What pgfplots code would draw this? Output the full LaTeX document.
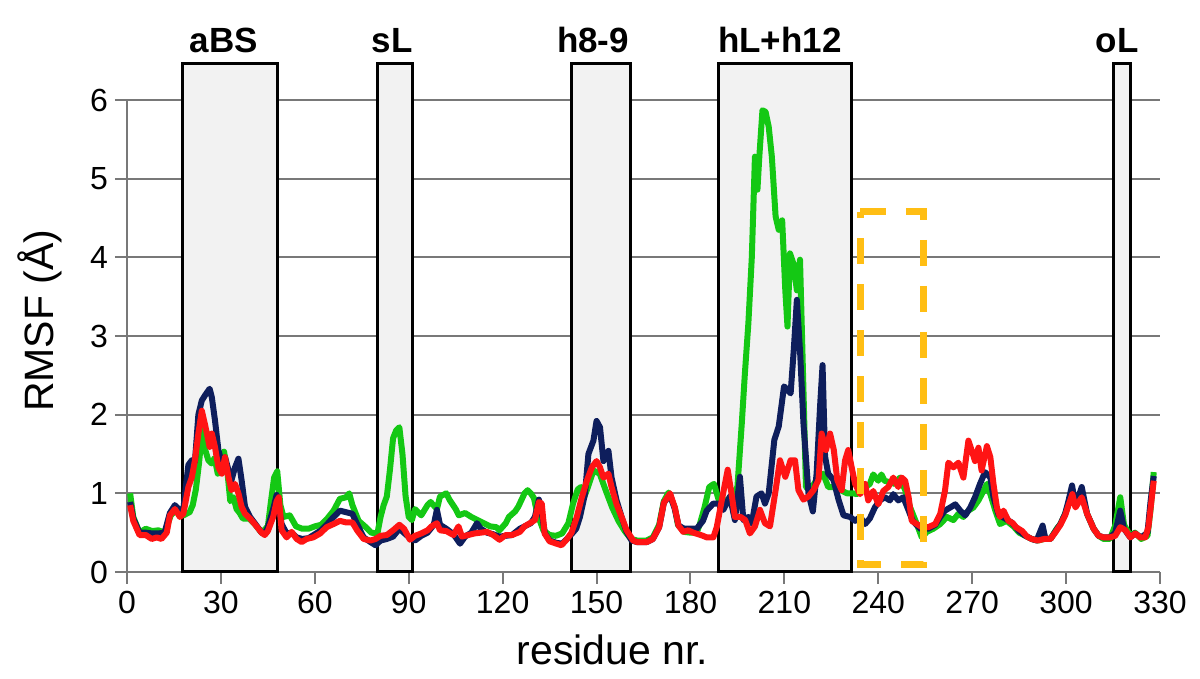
\documentclass[border=0pt]{standalone}
\usepackage{fontspec}
\setmainfont{Liberation Sans}
\usepackage{pgfplots}
\pgfplotsset{compat=1.18}
\definecolor{cgreen}{RGB}{20,200,20}
\definecolor{cnavy}{RGB}{14,30,92}
\definecolor{cred}{RGB}{255,20,20}
\definecolor{corange}{RGB}{255,190,20}
\definecolor{cbox}{RGB}{242,242,242}
\definecolor{cgrid}{RGB}{120,120,120}
\begin{document}
\begin{tikzpicture}
\begin{axis}[
  set layers,
  scale only axis,
  width=516.5pt, height=236pt,
  xmin=0, xmax=330, ymin=0, ymax=6,
  clip=false,
  axis x line*=bottom, axis y line*=left,
  axis line style={cgrid, line width=1pt},
  xtick={0,30,...,330}, ytick={0,1,...,6},
  tick align=outside, major tick length=6pt,
  tick style={cgrid, line width=1pt},
  ymajorgrids, grid style={cgrid, line width=1pt},
  /pgf/number format/assume math mode=true,
  ticklabel style={font=\fontsize{16}{19}\selectfont},
  xlabel={residue nr.}, ylabel={RMSF (Å)},
  label style={font=\fontsize{20.5}{24}\selectfont},
  xlabel style={at={(axis description cs:0.470,-0.165)}, anchor=center},
  ylabel style={at={(axis description cs:-0.0842,0.532)}, anchor=center},
]
% bounding frame
\path (axis cs:0,0) ++(-63.5pt,-53.5pt) rectangle ++(600pt,339.5pt);
% region fills
\fill[cbox, on layer=axis background] (axis cs:17.6,0) rectangle (axis cs:48.2,6.47);
\fill[cbox, on layer=axis background] (axis cs:79.9,0) rectangle (axis cs:91.1,6.47);
\fill[cbox, on layer=axis background] (axis cs:141.9,0) rectangle (axis cs:161.0,6.47);
\fill[cbox, on layer=axis background] (axis cs:189.1,0) rectangle (axis cs:231.3,6.47);
\fill[cbox, on layer=axis background] (axis cs:315.3,0) rectangle (axis cs:320.6,6.47);
% region borders
\draw[black, line width=1.5pt] (axis cs:17.6,0) rectangle (axis cs:48.2,6.47);
\draw[black, line width=1.5pt] (axis cs:79.9,0) rectangle (axis cs:91.1,6.47);
\draw[black, line width=1.5pt] (axis cs:141.9,0) rectangle (axis cs:161.0,6.47);
\draw[black, line width=1.5pt] (axis cs:189.1,0) rectangle (axis cs:231.3,6.47);
\draw[black, line width=1.5pt] (axis cs:315.3,0) rectangle (axis cs:320.6,6.47);
% labels
\node[font=\bfseries\fontsize{17.5}{20}\selectfont, anchor=base] at (axis cs:31,6.6) {aBS};
\node[font=\bfseries\fontsize{17.5}{20}\selectfont, anchor=base] at (axis cs:84.7,6.6) {sL};
\node[font=\bfseries\fontsize{17.5}{20}\selectfont, anchor=base] at (axis cs:148.9,6.6) {h8-9};
\node[font=\bfseries\fontsize{17.5}{20}\selectfont, anchor=base] at (axis cs:208.6,6.6) {hL+h12};
\node[font=\bfseries\fontsize{17.5}{20}\selectfont, anchor=base] at (axis cs:316.3,6.6) {oL};

\addplot[cgreen, line width=3pt, line join=round] coordinates {
(1,1.0) (2,0.7) (4,0.5) (6,0.55) (8,0.52) (10,0.53) (12,0.5) (14,0.72) (16,0.8) (18,0.72)
(20,0.76) (21,0.85) (22,1.05) (23,1.38) (24,1.8) (25,1.55) (26,1.42) (27,1.38) (28,1.45) (29,1.25)
(30,1.38) (31,1.53) (32,1.3) (33,0.9) (34,0.95) (35,0.8) (36,0.75) (37,0.68) (39,0.68) (41,0.6)
(43,0.5) (45,0.58) (46,0.9) (47,1.2) (48,1.28) (49,0.85) (50,0.7) (52,0.72) (54,0.58) (56,0.55)
(58,0.55) (60,0.58) (62,0.6) (64,0.68) (66,0.78) (68,0.93) (70,0.95) (71,1.0) (72,0.85) (74,0.65)
(76,0.58) (78,0.5) (80,0.49) (81,0.7) (82,0.85) (83,0.96) (84,1.3) (85,1.7) (86,1.8) (87,1.84)
(88,1.5) (89,0.96) (90,0.7) (91,0.66) (92,0.8) (94,0.72) (96,0.85) (97,0.89) (99,0.8) (100,0.96)
(102,1.0) (103,0.92) (105,0.8) (106,0.72) (108,0.75) (110,0.7) (112,0.66) (114,0.62) (116,0.58) (118,0.57)
(119,0.53) (121,0.62) (122,0.7) (124,0.77) (125,0.83) (127,1.0) (128,1.04) (129,1.0) (130,0.94) (131,0.75)
(133,0.53) (135,0.47) (137,0.46) (139,0.49) (141,0.62) (142.5,0.87) (144,1.05) (145,1.08) (146,0.95) (147,1.05)
(149,1.29) (151,1.25) (153,1.03) (155,0.82) (157,0.65) (159,0.52) (161,0.42) (163,0.4) (166,0.4) (168,0.44)
(170,0.6) (171.5,0.9) (173,1.01) (175,0.82) (176,0.6) (178,0.51) (180,0.5) (182,0.5) (183,0.61) (184.5,0.82)
(186,1.08) (187.5,1.12) (189,0.92) (191,0.9) (193,0.95) (195,1.08) (196.4,1.89) (197.4,2.53) (198.5,3.16) (199.6,4.0)
(200.6,5.28) (201.4,4.86) (202,5.28) (203,5.87) (204,5.85) (205,5.66) (206,5.28) (207.2,4.52) (208.2,4.35) (209.3,4.47)
(210.3,3.58) (211,3.12) (211.8,4.05) (212.9,3.92) (214,3.58) (215,3.97) (216.1,2.31) (216.9,1.08) (218.2,1.04) (220.3,1.17)
(222.4,1.25) (224,1.08) (226,1.08) (228,1.04) (230,1.0) (232,1.0) (233,0.99) (235,1.03) (236,1.08) (237.3,1.12)
(238.4,1.24) (240,1.16) (241,1.24) (242,1.16) (243.7,1.14) (245.3,1.12) (246.9,1.2) (248.6,1.04) (250.2,0.82) (252.3,0.61)
(253.9,0.44) (255.5,0.51) (257.6,0.55) (259.8,0.61) (261.9,0.7) (264,0.66) (265.6,0.74) (267.2,0.7) (268.8,0.78) (270.4,0.82)
(272,0.91) (273.6,1.03) (274.7,1.12) (275.8,0.99) (277.4,0.78) (278.9,0.61) (281,0.65) (283.2,0.58) (285,0.5) (287,0.46)
(289,0.42) (291,0.40) (293,0.42) (295,0.42) (297,0.55) (298.2,0.61) (299.7,0.74) (301,0.9) (302,1.0) (303,0.84)
(305,1.0) (306.7,0.74) (308.8,0.55) (310.4,0.46) (312,0.42) (314,0.42) (315.7,0.59) (317.3,0.95) (318.5,0.6) (320.5,0.46)
(322,0.5) (324,0.42) (326,0.46) (327,0.8) (328,1.27)
};
\addplot[cnavy, line width=3pt, line join=round] coordinates {
(1,0.89) (2,0.68) (4,0.5) (6,0.5) (8,0.49) (10,0.49) (12,0.5) (13.7,0.75) (15.3,0.85) (17,0.78)
(18,0.8) (19.6,1.36) (20.7,1.42) (21.7,1.4) (22.8,2.0) (23.9,2.18) (25,2.25) (26.4,2.33) (27.1,2.22) (28.1,1.93)
(29.2,1.55) (30.3,1.38) (31.3,1.46) (32.4,1.3) (33.4,1.17) (34.5,1.33) (35.6,1.44) (36.6,1.17) (37.7,0.83) (39.3,0.7)
(41,0.61) (43,0.5) (44,0.48) (45,0.57) (46.7,0.8) (47.8,0.98) (49.4,0.61) (51,0.49) (52.6,0.5) (54.2,0.44)
(56,0.42) (58,0.43) (60,0.48) (62,0.53) (64,0.61) (66,0.7) (68,0.78) (70,0.76) (72,0.74) (73.5,0.61)
(75.6,0.44) (77.8,0.38) (79.4,0.34) (81,0.4) (83,0.42) (85,0.45) (87,0.55) (89,0.48) (90.4,0.43) (92,0.4)
(94,0.46) (96,0.5) (98,0.6) (99,0.79) (100,0.6) (102,0.55) (104.3,0.48) (106.4,0.36) (108,0.45) (110,0.5)
(111.8,0.62) (113,0.55) (115,0.5) (117,0.48) (119,0.45) (121,0.46) (123,0.47) (125.5,0.55) (127,0.58) (129,0.62)
(130.3,0.7) (131.6,0.92) (132.5,0.75) (133.5,0.49) (135,0.4) (137.2,0.37) (139,0.36) (140.5,0.42) (142,0.48) (143.5,0.55)
(144.7,0.7) (146.3,0.99) (147.4,1.5) (149,1.67) (150,1.92) (151.1,1.84) (152.2,1.41) (153.8,1.54) (154.8,1.2) (156.4,0.91)
(158,0.7) (159.6,0.51) (161.2,0.4) (163,0.38) (166,0.38) (168,0.42) (170,0.57) (171.5,0.88) (173.5,0.98) (175,0.8)
(176.2,0.59) (178,0.55) (180,0.55) (182,0.55) (184,0.65) (185.2,0.78) (187.3,0.87) (189,0.87) (190.5,0.79) (192.6,0.96)
(194.2,0.66) (195.8,1.21) (196.9,0.66) (198.5,0.7) (199.6,0.62) (201.1,0.96) (202.7,1.0) (203.8,0.87) (205,1.0) (206.8,1.68)
(208.2,1.85) (209.9,2.36) (210.9,2.32) (212,2.27) (213,2.82) (214,3.46) (215.1,2.74) (216.1,1.89) (217.7,1.0) (219.1,0.77)
(220.3,1.25) (221.4,2.1) (222.2,2.63) (223,1.47) (224,1.25) (225.7,1.17) (227.3,0.92) (228.9,0.72) (231,0.7) (232.6,0.65)
(234.2,0.7) (235.8,0.61) (237.3,0.68) (238.9,0.82) (240.5,0.91) (242.1,0.95) (243.7,0.91) (244.8,0.99) (246.4,0.91) (248,0.95)
(249.7,0.78) (251,0.65) (253.4,0.55) (256,0.55) (258.2,0.6) (259.8,0.7) (261.3,0.78) (263,0.82) (264.6,0.86) (266.2,0.78)
(267.8,0.72) (269.4,0.82) (270.9,0.95) (272.5,1.12) (274.1,1.27) (275.8,1.2) (276.8,0.95) (278.4,0.73) (280.5,0.68) (282.6,0.63)
(285,0.52) (287,0.46) (289,0.42) (290.6,0.4) (292.5,0.59) (293.4,0.42) (295,0.42) (296.5,0.51) (298.2,0.61) (299.7,0.74)
(300.8,0.91) (301.9,1.1) (303,0.84) (305,1.08) (306.7,0.74) (308.8,0.55) (310.4,0.46) (312,0.44) (314,0.44) (315.7,0.5)
(317.3,0.78) (318.5,0.55) (320.5,0.44) (322,0.49) (324,0.44) (326,0.5) (327,0.9) (328,1.22)
};
\addplot[cred, line width=3pt, line join=round] coordinates {
(1,0.85) (2,0.65) (4,0.47) (6,0.47) (7.9,0.42) (9.5,0.44) (11,0.42) (12.7,0.5) (13.7,0.72) (15.3,0.8)
(16.9,0.7) (18,0.74) (19.6,1.08) (20.7,1.2) (21.7,1.42) (22.8,1.76) (23.9,2.05) (25,1.86) (26.4,1.59) (27.1,1.76)
(28.1,1.59) (29.2,1.33) (30.3,1.25) (31.3,1.46) (32.4,1.21) (33.4,1.04) (34.5,1.12) (35.6,1.0) (36.6,0.83) (37.7,0.74)
(39.3,0.68) (41,0.6) (43,0.5) (44,0.47) (45,0.52) (46.7,0.7) (47.8,0.9) (48.5,0.95) (49.4,0.53) (51,0.44)
(52.6,0.51) (54.2,0.42) (55.8,0.38) (57.4,0.42) (59.5,0.44) (61.7,0.49) (63.8,0.57) (66,0.61) (68,0.65) (70,0.63)
(72,0.63) (73.5,0.53) (75.6,0.42) (77.8,0.4) (79.4,0.42) (81,0.46) (83,0.47) (85,0.53) (87,0.6) (88.5,0.55)
(90.4,0.41) (92,0.46) (94,0.49) (96,0.53) (97.3,0.58) (99,0.62) (100,0.53) (102,0.52) (104.3,0.47) (105.9,0.58)
(107,0.45) (109,0.47) (111,0.49) (113,0.5) (115,0.51) (117,0.47) (119,0.41) (121,0.47) (123,0.47) (125.5,0.51)
(127,0.58) (128.7,0.62) (130.3,0.66) (131.6,0.89) (132.5,0.87) (133.4,0.49) (135,0.39) (137.2,0.36) (138.8,0.34) (140.4,0.41)
(142,0.5) (143.7,0.7) (145.3,0.95) (146.9,1.16) (148.5,1.33) (150,1.41) (151.1,1.33) (152.2,1.2) (153.8,1.25) (154.8,1.08)
(156.4,0.86) (158,0.7) (159.6,0.53) (161.7,0.4) (163,0.38) (166,0.38) (168,0.42) (170,0.57) (171.5,0.88) (173.5,1.0)
(175,0.82) (176.2,0.59) (177.7,0.51) (179.3,0.53) (180.9,0.5) (182.5,0.48) (184,0.46) (185.2,0.44) (187.3,0.44) (188.4,0.57)
(190,0.91) (191.9,1.3) (193.1,1.0) (194.2,0.7) (196,0.7) (197.5,0.66) (199,0.49) (200.6,0.58) (202.2,0.79) (203.8,0.62)
(205.4,0.58) (207.2,1.04) (208.6,1.42) (210.3,1.21) (212,1.42) (213.4,1.42) (214.5,1.04) (216.1,0.92) (217.7,0.96) (219.3,1.04)
(220.9,1.17) (221.9,1.76) (223.3,1.55) (224.6,1.76) (225.8,1.55) (226.9,1.17) (228.3,1.04) (229.4,1.42) (230.4,1.55) (231.5,1.33)
(232.6,1.12) (234.2,0.99) (235.8,1.12) (236.8,0.91) (238.4,1.03) (240,0.86) (241.6,1.03) (243.2,1.08) (244.8,1.2) (246.4,1.08)
(247.5,1.2) (248.6,1.16) (249.7,0.95) (250.7,0.65) (252.3,0.61) (253.9,0.57) (256,0.57) (258.2,0.61) (259.8,0.74) (261.3,1.03)
(262.4,1.39) (264,1.33) (265.6,1.39) (267.2,1.2) (268.8,1.67) (269.9,1.54) (270.9,1.41) (272,1.58) (273,1.29) (274.7,1.6)
(275.8,1.46) (276.8,1.12) (277.9,0.82) (278.9,0.7) (280,0.78) (281.6,0.65) (283,0.62) (284,0.57) (286,0.52) (287.5,0.45)
(289,0.42) (291,0.4) (293,0.42) (295,0.42) (296.5,0.5) (298.2,0.6) (299.7,0.72) (300.8,0.85) (302,0.99) (303,0.82)
(305,0.95) (306.7,0.74) (308.8,0.55) (310.4,0.46) (312,0.44) (314,0.44) (315.7,0.46) (317.3,0.57) (319,0.53) (320.5,0.44)
(322.1,0.49) (323.7,0.44) (325.3,0.44) (326.3,0.57) (327.4,0.95) (328,1.16)
};
% orange dashed frame
\draw[corange, line width=3.5pt, dash pattern=on 13pt off 10pt] (axis cs:234.2,4.58) -- (axis cs:254.6,4.58) -- (axis cs:254.6,0.09) -- (axis cs:234.2,0.09) -- cycle;
\end{axis}
\end{tikzpicture}
\end{document}
